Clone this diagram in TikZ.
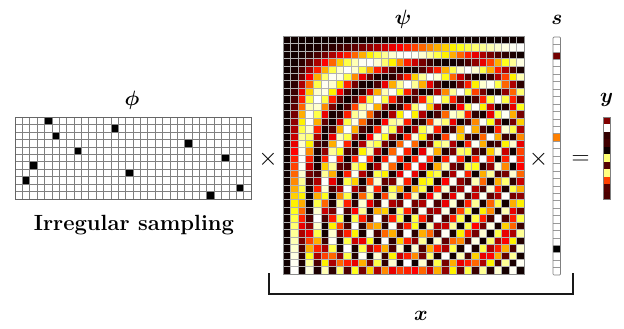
\documentclass[tikz,border=0pt]{standalone}
\usepackage{bm}
\begin{document}
\begin{tikzpicture}[x=1pt,y=-1pt,
  gridline/.style={draw=black!50,line width=0.55pt},
  frameline/.style={draw=black!60,line width=0.9pt},
  lab/.style={inner sep=0pt},
  timessym/.style={inner sep=0pt,font=\fontsize{24}{24}\selectfont},
  eqsym/.style={inner sep=0pt,font=\fontsize{26}{26}\selectfont},
  bracketline/.style={draw=black!90,line width=2.2pt}]
\useasboundingbox (0,0) rectangle (624,329);
% ---------- Phi (11 x 32) ----------
\node[minimum width=236pt,minimum height=82pt,inner sep=0pt,anchor=north west] (phi) at (15,117) {};
\foreach \r/\c in {0/4,1/13,2/5,3/23,4/8,5/28,6/2,7/15,8/1,9/30,10/26}{
  \fill[black] (15+\c*7.375,117+\r*7.4545) rectangle ++(7.375,7.4545);
}
\foreach \k in {1,...,31}{ \draw[gridline] (15+\k*7.375,117) -- (15+\k*7.375,199); }
\foreach \k in {1,...,10}{ \draw[gridline] (15,117+\k*7.4545) -- (251,117+\k*7.4545); }
\draw[frameline] (15,117) rectangle (251,199);
\node[lab] (philab) at (132,100) {\fontsize{21}{21}\selectfont$\bm{\phi}$};
\node[lab,anchor=base] (irr) at (134,230) {\fontsize{22}{22}\selectfont\bfseries Irregular sampling};
% ---------- Psi (32 x 32) ----------
\node[minimum width=241pt,minimum height=238pt,inner sep=0pt,anchor=north west] (psi) at (283,36) {};
\foreach \i in {0,...,31}{
  \foreach \j in {0,...,31}{
    \pgfmathtruncatemacro\kk{mod(\i*\j,64)}
    \pgfmathsetmacro\mys{abs(sin(\kk*2.8125))}
    \pgfmathsetmacro\myv{\mys*\mys*sqrt(\mys)}
    \pgfmathsetmacro\myr{min(1,0.06+\myv/0.375)}
    \pgfmathsetmacro\myg{min(1,max(0,(\myv-0.375)/0.375))}
    \pgfmathsetmacro\myb{max(0,(\myv-0.75)/0.25)}
    \definecolor{cc}{rgb}{\myr,\myg,\myb}
    \fill[cc] (283+\j*7.53125,36+\i*7.4375) rectangle ++(7.53125,7.4375);
  }
}
\foreach \k in {1,...,31}{
  \draw[draw=black!30,line width=0.3pt] (283+\k*7.53125,36) -- (283+\k*7.53125,274);
  \draw[draw=black!30,line width=0.3pt] (283,36+\k*7.4375) -- (524,36+\k*7.4375);
}
\draw[draw=black!45,line width=0.6pt] (283,36) rectangle (524,274);
\node[lab] (psilab) at (403,19) {\fontsize{21}{21}\selectfont$\bm{\psi}$};
% ---------- s (32) ----------
\node[minimum width=7.5pt,minimum height=238pt,inner sep=0pt,anchor=north west] (s) at (553,37) {};
\definecolor{sdark}{rgb}{0.45,0,0}
\definecolor{sorange}{rgb}{1,0.5,0}
\fill[sdark] (553,37+2*7.4375) rectangle ++(7.5,7.4375);
\fill[sorange] (553,37+13*7.4375) rectangle ++(7.5,7.4375);
\fill[black] (553,37+28*7.4375) rectangle ++(7.5,7.4375);
\foreach \k in {1,...,31}{ \draw[draw=black!40,line width=0.5pt] (553,37+\k*7.4375) -- (560.5,37+\k*7.4375); }
\draw[draw=black!50,line width=0.7pt,rounded corners=1pt] (553,37) rectangle (560.5,275);
\node[lab] (slab) at (557,20) {\fontsize{21}{21}\selectfont$\bm{s}$};
% ---------- y (11) ----------
\node[minimum width=7.5pt,minimum height=82pt,inner sep=0pt,anchor=north west] (yv) at (603,117) {};
\foreach \k/\cr/\cg/\cb in {0/0.5/0/0,1/1/1/1,2/0.2/0/0,3/0.25/0/0,4/0.05/0/0,5/1/1/0.45,6/0.33/0/0,7/1/1/0.5,8/1/0.25/0,9/0.33/0/0,10/0.3/0/0}{
  \definecolor{yc}{rgb}{\cr,\cg,\cb}
  \fill[yc] (603,117+\k*7.4545) rectangle ++(7.5,7.4545);
}
\draw[draw=black!50,line width=0.6pt] (603,117) rectangle (610.5,199.5);
\node[lab] (ylab) at (606.5,100) {\fontsize{21}{21}\selectfont$\bm{y}$};
% ---------- operators ----------
\node[timessym] (t1) at (268,159) {$\times$};
\node[timessym] (t2) at (538.5,159) {$\times$};
\node[eqsym] (eq) at (580.5,160) {$=$};
% ---------- bracket ----------
\coordinate (b1) at (269,273);
\coordinate (b2) at (269,294);
\coordinate (b3) at (573,294);
\coordinate (b4) at (573,273);
\draw[bracketline] (b1) -- (b2) -- (b3) -- (b4);
\node[lab] (xlab) at (421,316) {\fontsize{21}{21}\selectfont$\bm{x}$};
\end{tikzpicture}
\end{document}
